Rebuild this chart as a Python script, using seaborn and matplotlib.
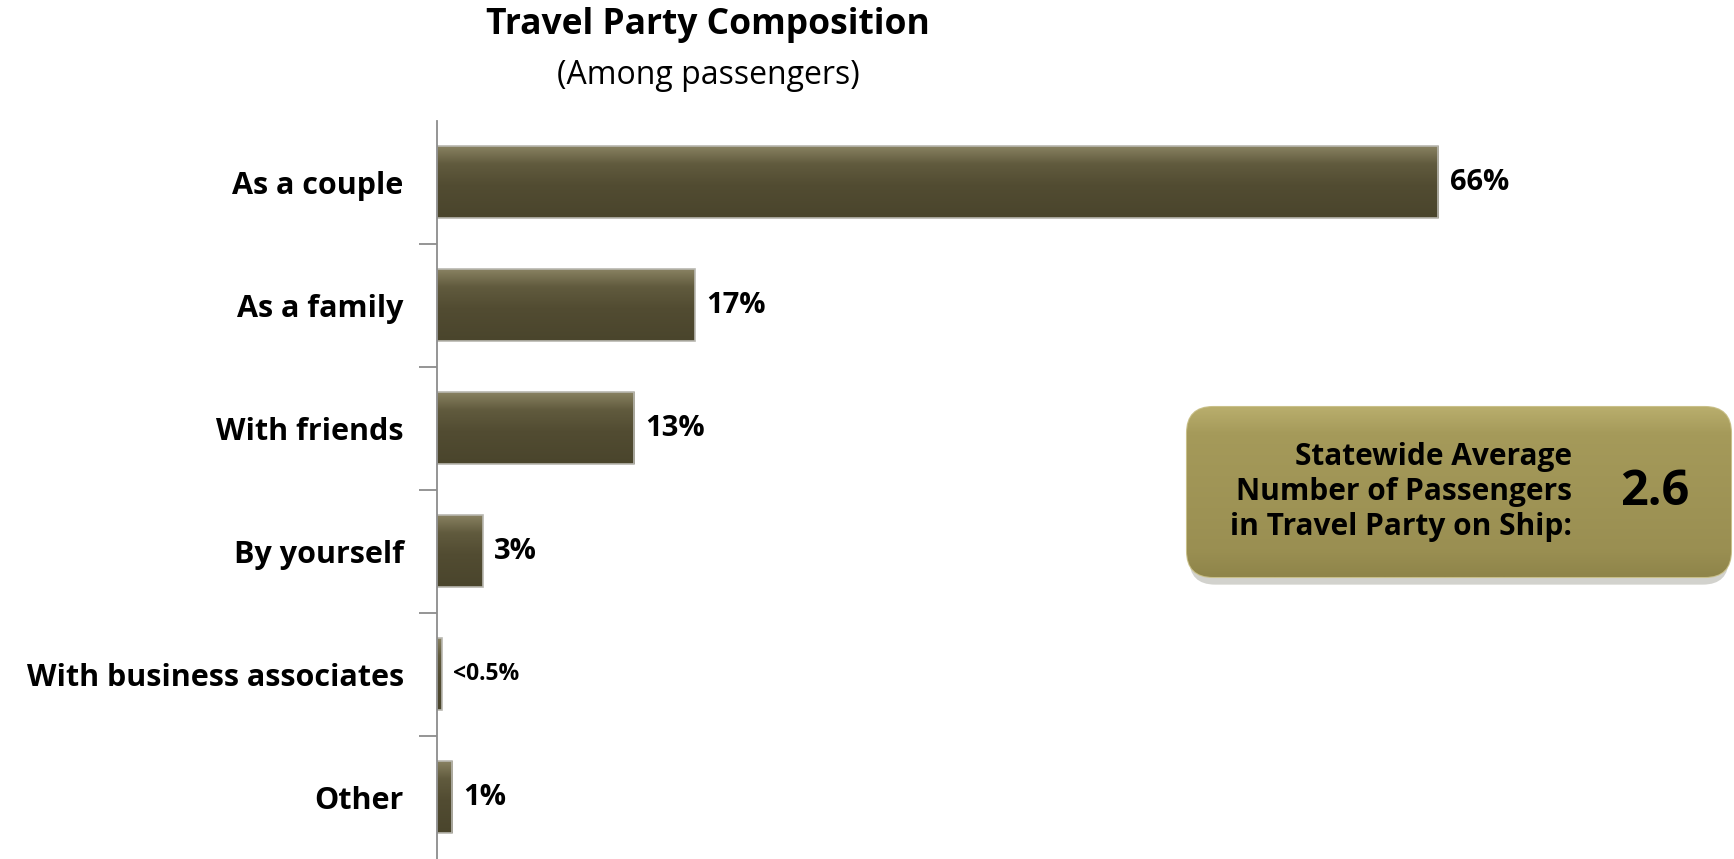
import matplotlib
matplotlib.use("Agg")
import matplotlib.pyplot as plt
import seaborn as sns
import pandas as pd
import numpy as np
from matplotlib.patches import FancyBboxPatch
from matplotlib.colors import LinearSegmentedColormap

categories = ["As a couple", "As a family", "With friends", "By yourself",
              "With business associates", "Other"]
values = [66, 17, 13, 3, 0.3, 1]
value_labels = ["66%", "17%", "13%", "3%", "<0.5%", "1%"]

title = "Travel Party Composition"
subtitle = "(Among passengers)"
box_text = "Statewide Average\nNumber of Passengers\nin Travel Party on Ship:"
box_value = "2.6"

sns.set_style("white")
plt.rcParams['font.family'] = ['Open Sans', 'DejaVu Sans']

df = pd.DataFrame({"category": categories, "value": values})

W, H = 1734, 859
fig = plt.figure(figsize=(W / 100, H / 100), dpi=100)
ax_left = 437 / W
ax_top = 1 - 120.5 / H
ax = fig.add_axes([ax_left, 0, 1 - ax_left, ax_top])

bar_color = "#4e4930"
sns.barplot(data=df, x="value", y="category", orient="h", color=bar_color,
            width=0.585, saturation=1, ax=ax, edgecolor="#b9b8b0", linewidth=1.2)

ax.set_xlim(0, 85.5)
ax.set_ylim(len(categories) - 0.5, -0.5)

# vertical gradient shading inside each bar (bevel look)
bar_cmap = LinearSegmentedColormap.from_list(
    "bar", [(0.0, "#8a8363"), (0.25, "#615b3e"), (0.55, "#524c32"), (1.0, "#4a452c")])
grad = np.linspace(0, 1, 64).reshape(-1, 1)
for p in list(ax.patches):
    x0, y0, w, h = p.get_x(), p.get_y(), p.get_width(), p.get_height()
    z = p.get_zorder()
    im = ax.imshow(grad, cmap=bar_cmap, aspect="auto",
                   extent=(x0, x0 + w, y0 + h, y0), origin="upper",
                   zorder=z + 0.1, interpolation="bilinear")
    im.set_clip_path(p)
    p.set_facecolor("none")
    p.set_zorder(z + 0.2)
ax.set_xlim(0, 85.5)
ax.set_ylim(len(categories) - 0.5, -0.5)
ax.set_aspect("auto")

ax.set_xlabel("")
ax.set_ylabel("")
ax.set_xticks([])
for s in ["top", "right", "bottom"]:
    ax.spines[s].set_visible(False)
ax.spines["left"].set_color("#8c8c8c")
ax.spines["left"].set_linewidth(1.3)
ax.spines["left"].set_zorder(5)

ax.tick_params(axis="y", which="major", length=0, pad=24, labelsize=22,
               labelcolor="#000000")
for lbl in ax.get_yticklabels():
    lbl.set_fontweight("bold")
ax.set_yticks(np.arange(0.5, len(categories) - 0.5, 1), minor=True)
ax.tick_params(axis="y", which="minor", left=True, length=13, width=1.3,
               color="#8c8c8c")

for i, (v, t) in enumerate(zip(values, value_labels)):
    fs = 16.5 if t.startswith("<") else 21
    ax.text(v + 0.75, i, t, ha="left", va="center", fontsize=fs,
            fontweight="bold", color="#000000")

fig.text(708 / W, 1 - 25 / H, title, ha="center", va="center",
         fontsize=25.5, fontweight="bold", color="#000000")
fig.text(708 / W, 1 - 75 / H, subtitle, ha="center", va="center",
         fontsize=23, color="#000000")

# statistic box drawn in its own axes
bx0, by0, bx1, by1 = 1187, 407, 1731, 577
bw, bh = bx1 - bx0, by1 - by0
box_ax = fig.add_axes([bx0 / W, 1 - by1 / H, bw / W, bh / H], zorder=6)
box_ax.set_axis_off()
box_ax.set_xlim(0, 1)
box_ax.set_ylim(0, 1)
rs = 26  # rounding in pixels
style = f"round,pad=0,rounding_size={rs / bw}"
shadow = FancyBboxPatch((0.004, -0.045), 0.992, 1.0, boxstyle=style,
                        mutation_aspect=bw / bh,
                        transform=box_ax.transAxes, facecolor="#b5b5ad",
                        edgecolor="none", alpha=0.6, clip_on=False, zorder=1)
box_ax.add_patch(shadow)
box = FancyBboxPatch((0, 0), 1, 1, boxstyle=style,
                     mutation_aspect=bw / bh,
                     transform=box_ax.transAxes, facecolor="#a09556",
                     edgecolor="#c9c08a", linewidth=1.5, clip_on=False, zorder=2)
box_ax.add_patch(box)
box_cmap = LinearSegmentedColormap.from_list(
    "box", [(0.0, "#b8ad6c"), (0.15, "#a59a5a"), (0.85, "#9a8f52"), (1.0, "#8f854a")])
bim = box_ax.imshow(grad, cmap=box_cmap, aspect="auto", extent=(0, 1, 0, 1),
                    origin="upper", interpolation="bilinear", zorder=3)
bim.set_clip_path(box)
box_ax.text(1 - (bx1 - 1572) / bw, 0.5, box_text,
            transform=box_ax.transAxes, ha="right", va="center",
            fontsize=21.5, fontweight="bold", color="#000000", linespacing=1.22,
            zorder=5)
box_ax.text((1655 - bx0) / bw, 0.495, box_value,
            transform=box_ax.transAxes, ha="center", va="center",
            fontsize=35, fontweight="bold", color="#000000", zorder=5)

fig.savefig("out.png", dpi=100)
